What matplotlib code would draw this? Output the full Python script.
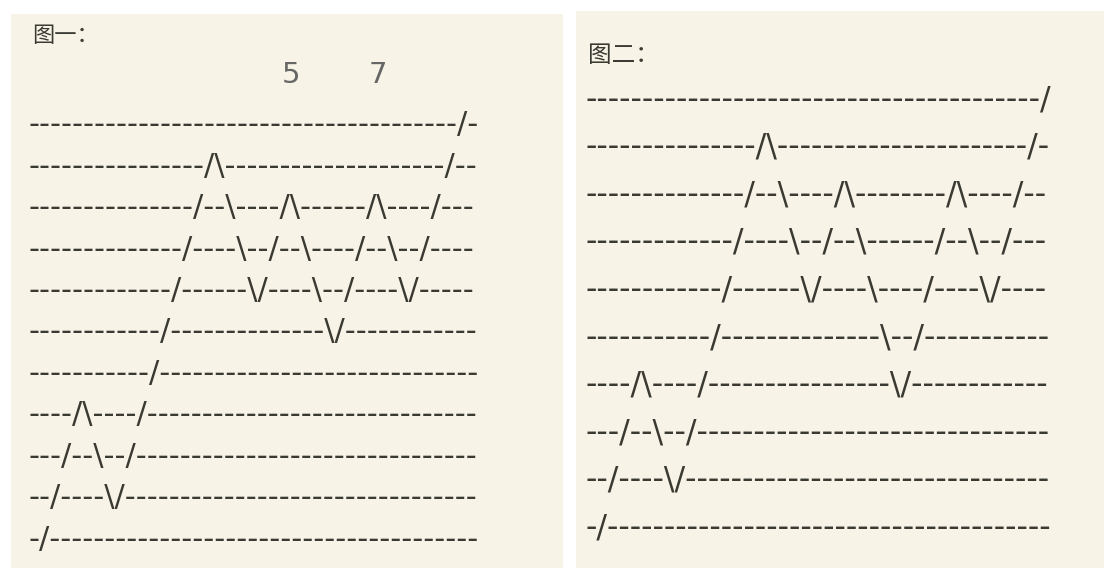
import matplotlib
matplotlib.use("Agg")
import matplotlib.pyplot as plt

# ascii art rows, written in 10-char chunks (cols 0-9, 10-19, 20-29, 30-39, 40)
fig1_rows = [
    "----------" "----------" "----------" "---------/" "-",
    "----------" "------/\\--" "----------" "--------/-" "-",
    "----------" "-----/--\\-" "---/\\-----" "-/\\----/--" "-",
    "----------" "----/----\\" "--/--\\----" "/--\\--/---" "-",
    "----------" "---/------" "\\/----\\--/" "----\\/----" "-",
    "----------" "--/-------" "-------\\/-" "----------" "-",
    "----------" "-/--------" "----------" "----------" "-",
    "----/\\----" "/---------" "----------" "----------" "-",
    "---/--\\--/" "----------" "----------" "----------" "-",
    "--/----\\/-" "----------" "----------" "----------" "-",
    "-/--------" "----------" "----------" "----------" "-",
]
fig2_rows = [
    "----------" "----------" "----------" "----------" "/",
    "----------" "-----/\\---" "----------" "---------/" "-",
    "----------" "----/--\\--" "--/\\------" "--/\\----/-" "-",
    "----------" "---/----\\-" "-/--\\-----" "-/--\\--/--" "-",
    "----------" "--/------\\" "/----\\----" "/----\\/---" "-",
    "----------" "-/--------" "------\\--/" "----------" "-",
    "----/\\----" "/---------" "-------\\/-" "----------" "-",
    "---/--\\--/" "----------" "----------" "----------" "-",
    "--/----\\/-" "----------" "----------" "----------" "-",
    "-/--------" "----------" "----------" "----------" "-",
]
fig1_title = "图一："
fig2_title = "图二："
peak_labels = ["5", "7"]
peak_cols = [23.5, 31.5]

bg = "#f7f4e7"
ink = "#3a3a33"
cjk = ["Noto Sans CJK SC", "DejaVu Sans"]

fig = plt.figure(figsize=(11.04, 5.68), dpi=100)
fig.patch.set_facecolor("white")

ax1 = fig.add_axes([11 / 1104, 0, 552 / 1104, 554 / 568])
ax2 = fig.add_axes([576 / 1104, 0, 528 / 1104, 557 / 568])

def setup(ax, xlim, ylim):
    ax.set_facecolor(bg)
    ax.set_xlim(*xlim)
    ax.set_ylim(*ylim)
    ax.set_xticks([])
    ax.set_yticks([])
    for s in ax.spines.values():
        s.set_visible(False)

# one text per row; DejaVu Sans hyphen advance ~0.361 em sets the cell width
def draw_rows(ax, rows, size):
    for r, line in enumerate(rows):
        ax.text(-0.55, r, line, ha="left", va="center", fontsize=size,
                family="DejaVu Sans", color=ink)

setup(ax1, (-2.20, 48.44), (10.70, -2.68))
setup(ax2, (-1.42, 45.31), (9.85, -1.87))

draw_rows(ax1, fig1_rows, 22.0)
draw_rows(ax2, fig2_rows, 22.8)

ax1.text(0.038, 0.962, fig1_title, transform=ax1.transAxes, ha="left",
         va="center", fontsize=16, family=cjk, color=ink)
ax2.text(0.022, 0.921, fig2_title, transform=ax2.transAxes, ha="left",
         va="center", fontsize=17, family=cjk, color=ink)

for lab, col in zip(peak_labels, peak_cols):
    ax1.text(col, -1.21, lab, ha="center", va="center", fontsize=21,
             family=["Liberation Sans Narrow", "DejaVu Sans"], color="#666666")

fig.savefig("out.png", dpi=100, facecolor="white")
